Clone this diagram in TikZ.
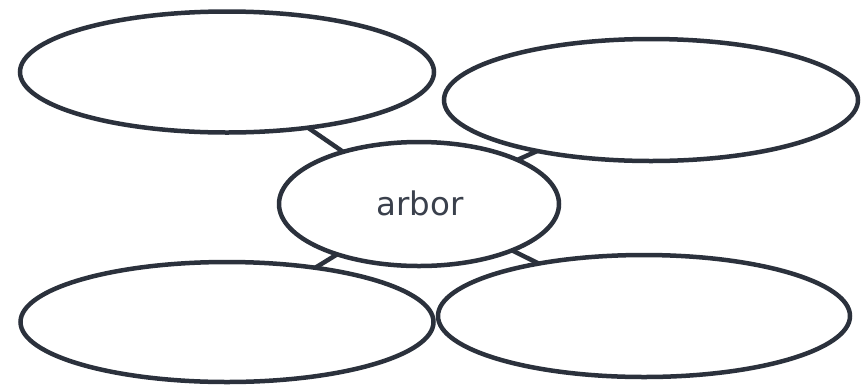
\documentclass[tikz,border=0pt]{standalone}
\usepackage{fontspec}
\setmainfont{DejaVu Sans}
\usetikzlibrary{shapes.geometric}
\definecolor{ink}{HTML}{2B313C}
\definecolor{label}{HTML}{3A404C}
\tikzset{
  bubble/.style={ellipse, draw=ink, line width=4.5pt, fill=white, inner sep=0pt},
  link/.style={draw=ink, line width=4.5pt}
}
\begin{document}
\begin{tikzpicture}[x=1pt, y=-1pt]
  \useasboundingbox[fill=white] (0,0) rectangle (867,384);
  % bubble centres
  \coordinate (c0) at (419,204);
  \coordinate (c1) at (227,72);
  \coordinate (c2) at (651,100);
  \coordinate (c3) at (227,322);
  \coordinate (c4) at (644,316);
  % spokes first, so the bubbles cover their ends
  \draw[link] (c0) -- (c1);
  \draw[link] (c0) -- (c2);
  \draw[link] (c0) -- (c3);
  \draw[link] (c0) -- (c4);
  % the four surrounding bubbles and the centre bubble
  \node[bubble, minimum width=414pt, minimum height=121pt] (tl) at (c1) {};
  \node[bubble, minimum width=414pt, minimum height=122pt] (tr) at (c2) {};
  \node[bubble, minimum width=413pt, minimum height=120pt] (bl) at (c3) {};
  \node[bubble, minimum width=412pt, minimum height=122pt] (br) at (c4) {};
  \node[bubble, minimum width=280pt, minimum height=124pt] (hub) at (c0) {};
  \node[text=label, font=\fontsize{32.5}{38}\selectfont, anchor=base] (word) at (420,215) {arbor};
\end{tikzpicture}
\end{document}
